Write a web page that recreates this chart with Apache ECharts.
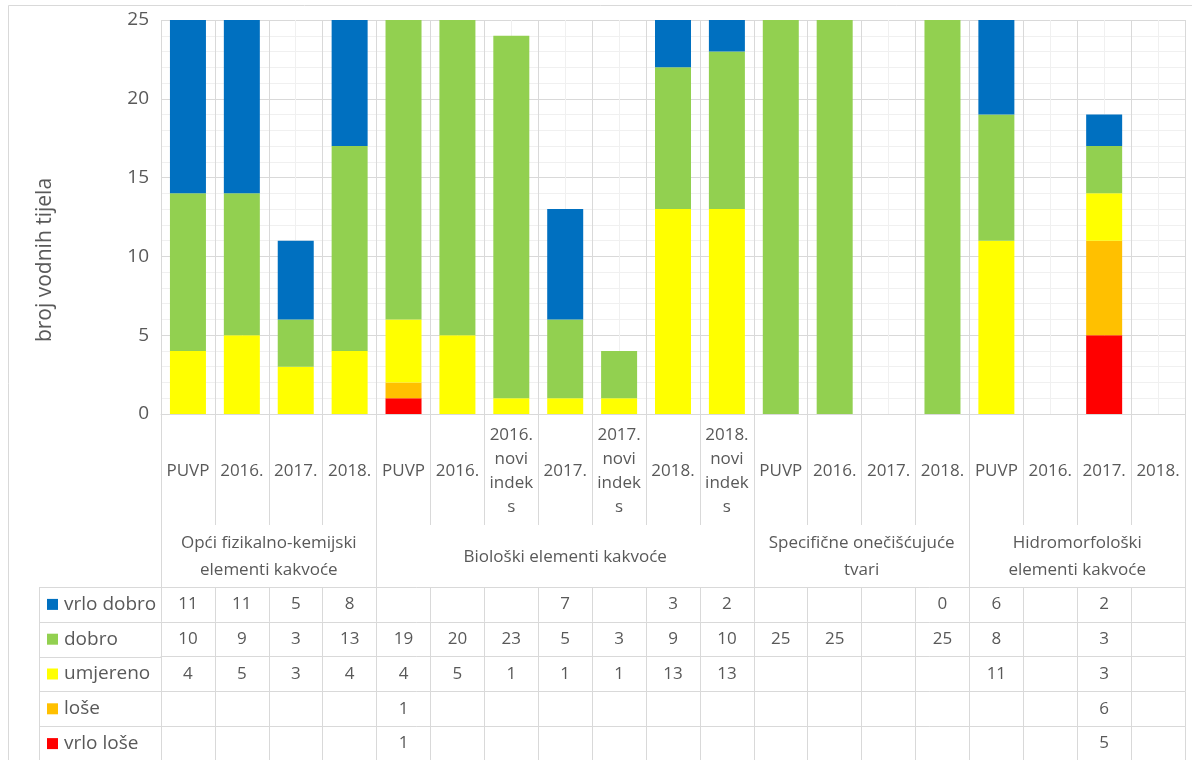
<!DOCTYPE html>
<html>
<head>
<meta charset="utf-8">
<script src="https://cdn.jsdelivr.net/npm/echarts@6/dist/echarts.min.js"></script>
<style>
  html, body { margin: 0; padding: 0; background: #fff; }
  #chart { width: 1192px; height: 760px; }
</style>
</head>
<body>
<div id="chart"></div>
<script>
// categories (level 1) and groups (level 2)
const categories = ['PUVP', '2016.', '2017.', '2018.',
  'PUVP', '2016.', '2016.\nnovi\nindek\ns', '2017.', '2017.\nnovi\nindek\ns', '2018.', '2018.\nnovi\nindek\ns',
  'PUVP', '2016.', '2017.', '2018.',
  'PUVP', '2016.', '2017.', '2018.']
const groups = ['Opći fizikalno-kemijski\nelementi kakvoće', 'Biološki elementi kakvoće',
  'Specifične onečišćujuće\ntvari', 'Hidromorfološki\nelementi kakvoće']
const groupBounds = [0, 4, 11, 15, 19]

// series values (null = empty cell)
const vrloDobro = [11, 11, 5, 8, null, null, null, 7, null, 3, 2, null, null, null, 0, 6, null, 2, null]
const dobro = [10, 9, 3, 13, 19, 20, 23, 5, 3, 9, 10, 25, 25, null, 25, 8, null, 3, null]
const umjereno = [4, 5, 3, 4, 4, 5, 1, 1, 1, 13, 13, null, null, null, null, 11, null, 3, null]
const lose = [null, null, null, null, 1, null, null, null, null, null, null, null, null, null, null, null, null, 6, null]
const vrloLose = [null, null, null, null, 1, null, null, null, null, null, null, null, null, null, null, null, null, 5, null]

const yTicks = [0, 5, 10, 15, 20, 25]

// table rows, top to bottom
const rows = [
  { name: 'vrlo dobro', data: vrloDobro, color: '#0070C0' },
  { name: 'dobro', data: dobro, color: '#92D050' },
  { name: 'umjereno', data: umjereno, color: '#FFFF00' },
  { name: 'loše', data: lose, color: '#FFC000' },
  { name: 'vrlo loše', data: vrloLose, color: '#FF0000' }
]

const FONT = 'Open Sans'
const TXT = '#595959'
const GRID = '#d9d9d9'
const MINOR = '#f0f0f0'

const plotLeft = 161
const plotBottom = 414
const tableTop = 587
const rowH = 34.8
const legendLeft = 39

const chart = echarts.init(document.getElementById('chart'))

const groupCenters = groups.map((g, i) => (groupBounds[i] + groupBounds[i + 1]) / 2)

const xAxes = [
  {
    type: 'category',
    data: categories,
    position: 'bottom',
    axisLine: { lineStyle: { color: GRID } },
    axisTick: { show: true, interval: 0, length: 111, lineStyle: { color: GRID } },
    axisLabel: {
      interval: 0, verticalAlign: 'middle', margin: 57,
      fontFamily: FONT, fontSize: 17, color: TXT, lineHeight: 24
    },
    splitLine: { show: false }
  },
  {
    // vertical gridlines: boundaries (major) and category centres (minor)
    type: 'value', min: 0, max: 19, interval: 1,
    position: 'bottom',
    axisLine: { show: false }, axisTick: { show: false }, axisLabel: { show: false },
    minorTick: { show: false, splitNumber: 2 },
    splitLine: { show: true, lineStyle: { color: GRID } },
    minorSplitLine: { show: true, lineStyle: { color: MINOR } }
  },
  {
    // group labels
    type: 'value', min: 0, max: 19,
    position: 'bottom', offset: 111,
    axisLine: { show: false },
    axisTick: { show: true, customValues: groupBounds, length: tableTop - plotBottom - 111, lineStyle: { color: GRID } },
    axisLabel: {
      customValues: groupCenters,
      formatter: v => groups[groupCenters.indexOf(v)] || '',
      verticalAlign: 'middle', margin: 32,
      fontFamily: FONT, fontSize: 17, color: TXT, lineHeight: 27
    },
    splitLine: { show: false }
  }
]

rows.forEach((r, i) => {
  xAxes.push({
    type: 'category',
    data: categories,
    position: 'bottom',
    offset: tableTop - plotBottom + rowH * i,
    axisLine: { show: true, lineStyle: { color: GRID } },
    axisTick: { show: true, interval: 0, length: rowH, lineStyle: { color: GRID } },
    axisLabel: {
      interval: 0, verticalAlign: 'middle', margin: rowH / 2,
      formatter: (v, idx) => (r.data[idx] == null ? '' : String(r.data[idx])),
      fontFamily: FONT, fontSize: 17, color: TXT
    },
    splitLine: { show: false }
  })
})

const legends = rows.map((r, i) => ({
  data: [r.name],
  left: legendLeft + 8,
  top: tableTop + rowH * i + rowH / 2 - 12,
  icon: 'rect',
  itemWidth: 11,
  itemHeight: 11,
  itemGap: 6,
  padding: 0,
  selectedMode: false,
  textStyle: { fontFamily: FONT, fontSize: 19, color: TXT, lineHeight: 24, padding: [0, 0, 0, 1] }
}))

// chart border and legend column cell borders
const graphics = [
  { type: 'rect', shape: { x: 8.5, y: 5.5, width: 1200, height: 800 }, style: { fill: null, stroke: GRID, lineWidth: 1 }, silent: true }
]
for (let i = 0; i <= 5; i++) {
  const y = Math.round(tableTop + rowH * i) + 0.5
  graphics.push({ type: 'line', shape: { x1: legendLeft, y1: y, x2: plotLeft, y2: y }, style: { stroke: GRID, lineWidth: 1 }, silent: true })
}
graphics.push({ type: 'line', shape: { x1: legendLeft + 0.5, y1: tableTop, x2: legendLeft + 0.5, y2: 770 }, style: { stroke: GRID, lineWidth: 1 }, silent: true })

const stackOrder = [rows[4], rows[3], rows[2], rows[1], rows[0]]

const option = {
  animation: false,
  backgroundColor: '#fff',
  grid: { left: plotLeft, right: 1192 - 1185, top: 20, bottom: 760 - plotBottom, containLabel: false },
  legend: legends,
  xAxis: xAxes,
  yAxis: {
    type: 'value',
    min: yTicks[0], max: yTicks[yTicks.length - 1], interval: yTicks[1] - yTicks[0],
    name: 'broj vodnih tijela',
    nameLocation: 'middle',
    nameGap: 105,
    nameTextStyle: { fontFamily: FONT, fontSize: 21, color: TXT, padding: [0, 86, 0, 0] },
    axisLine: { show: false },
    axisTick: { show: false },
    axisLabel: { fontFamily: FONT, fontSize: 19, color: TXT, margin: 12 },
    minorTick: { show: false, splitNumber: 5 },
    splitLine: { lineStyle: { color: GRID } },
    minorSplitLine: { show: true, lineStyle: { color: MINOR } }
  },
  graphic: graphics,
  series: stackOrder.map(r => ({
    name: r.name,
    type: 'bar',
    stack: 'total',
    xAxisIndex: 0,
    barWidth: 36,
    data: r.data,
    itemStyle: { color: r.color }
  }))
}

chart.setOption(option)
</script>
</body>
</html>
